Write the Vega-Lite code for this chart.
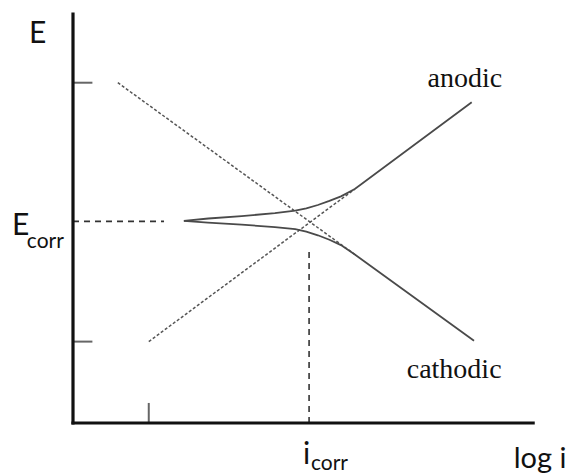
{
  "$schema": "https://vega.github.io/schema/vega-lite/v6.json",
  "width": 462,
  "height": 409,
  "autosize": "none",
  "padding": {"left": 73, "top": 14, "right": 34, "bottom": 50},
  "background": "white",
  "config": {"view": {"stroke": null}},
  "datasets": {
    "frame": [
      {"part": "E axis", "x": 0, "y": 0, "x2": 0, "y2": 10},
      {"part": "log i axis", "x": 0, "y": 0, "x2": 9.96, "y2": 0}
    ],
    "ticks": [
      {"part": "upper E tick", "x": 0, "y": 8.32, "x2": 0.42, "y2": 8.32},
      {"part": "lower E tick", "x": 0, "y": 1.99, "x2": 0.42, "y2": 1.99},
      {"part": "log i tick", "x": 1.64, "y": 0, "x2": 1.64, "y2": 0.49}
    ],
    "guides": [
      {"guide": "Ecorr", "x": 0, "y": 4.93, "x2": 1.97, "y2": 4.93},
      {"guide": "icorr", "x": 5.11, "y": 0, "x2": 5.11, "y2": 4.3}
    ],
    "tafel": [
      {"line": "cathodic", "x": 0.97, "y": 8.32},
      {"line": "cathodic", "x": 6.1, "y": 4.12},
      {"line": "anodic", "x": 1.64, "y": 1.99},
      {"line": "anodic", "x": 6.1, "y": 5.72}
    ],
    "curve": [
      {"branch": "anodic", "k": 0, "x": 2.4, "y": 4.94},
      {"branch": "anodic", "k": 1, "x": 2.93, "y": 5.0},
      {"branch": "anodic", "k": 2, "x": 3.65, "y": 5.06},
      {"branch": "anodic", "k": 3, "x": 4.37, "y": 5.13},
      {"branch": "anodic", "k": 4, "x": 4.81, "y": 5.19},
      {"branch": "anodic", "k": 5, "x": 5.05, "y": 5.25},
      {"branch": "anodic", "k": 6, "x": 5.3, "y": 5.33},
      {"branch": "anodic", "k": 7, "x": 5.55, "y": 5.43},
      {"branch": "anodic", "k": 8, "x": 5.8, "y": 5.54},
      {"branch": "anodic", "k": 9, "x": 6.1, "y": 5.72},
      {"branch": "anodic", "k": 10, "x": 8.63, "y": 7.84},
      {"branch": "cathodic", "k": 0, "x": 2.4, "y": 4.94},
      {"branch": "cathodic", "k": 1, "x": 2.92, "y": 4.9},
      {"branch": "cathodic", "k": 2, "x": 3.65, "y": 4.85},
      {"branch": "cathodic", "k": 3, "x": 4.37, "y": 4.79},
      {"branch": "cathodic", "k": 4, "x": 4.81, "y": 4.74},
      {"branch": "cathodic", "k": 5, "x": 5.05, "y": 4.68},
      {"branch": "cathodic", "k": 6, "x": 5.3, "y": 4.59},
      {"branch": "cathodic", "k": 7, "x": 5.55, "y": 4.48},
      {"branch": "cathodic", "k": 8, "x": 5.8, "y": 4.35},
      {"branch": "cathodic", "k": 9, "x": 6.1, "y": 4.12},
      {"branch": "cathodic", "k": 10, "x": 8.68, "y": 2.01}
    ],
    "symbols": [
      {"text": "E", "x": -0.95, "y": 9.29},
      {"text": "E", "x": -1.32, "y": 4.6},
      {"text": "i", "x": 4.98, "y": -1.0}
    ],
    "axisName": [
      {"text": "log i", "x": 10.68, "y": -1.1}
    ],
    "subscripts": [
      {"text": "corr", "x": -1.0, "y": 4.28},
      {"text": "corr", "x": 5.15, "y": -1.14}
    ],
    "branchLabels": [
      {"text": "anodic", "x": 8.48, "y": 8.22},
      {"text": "cathodic", "x": 8.25, "y": 1.1}
    ]
  },
  "encoding": {
    "x": {"type": "quantitative", "scale": {"domain": [0, 10], "nice": false, "zero": false}, "axis": null},
    "y": {"type": "quantitative", "scale": {"domain": [0, 10], "nice": false, "zero": false}, "axis": null}
  },
  "layer": [
    {
      "data": {"name": "guides"},
      "mark": {"type": "rule", "stroke": "#333", "strokeWidth": 1.6, "strokeDash": [6, 5]},
      "encoding": {"x": {"field": "x"}, "y": {"field": "y"}, "x2": {"field": "x2"}, "y2": {"field": "y2"}}
    },
    {
      "data": {"name": "tafel"},
      "mark": {"type": "line", "stroke": "#555", "strokeWidth": 1.5, "strokeDash": [3, 2]},
      "encoding": {"x": {"field": "x"}, "y": {"field": "y"}, "detail": {"field": "line"}}
    },
    {
      "data": {"name": "curve"},
      "mark": {"type": "line", "stroke": "#4a4a4a", "strokeWidth": 1.8, "interpolate": "linear"},
      "encoding": {"x": {"field": "x"}, "y": {"field": "y"}, "detail": {"field": "branch"}, "order": {"field": "k"}}
    },
    {
      "data": {"name": "ticks"},
      "mark": {"type": "rule", "stroke": "#666", "strokeWidth": 2},
      "encoding": {"x": {"field": "x"}, "y": {"field": "y"}, "x2": {"field": "x2"}, "y2": {"field": "y2"}}
    },
    {
      "data": {"name": "frame"},
      "mark": {"type": "rule", "stroke": "#111", "strokeWidth": 3.2, "strokeCap": "square"},
      "encoding": {"x": {"field": "x"}, "y": {"field": "y"}, "x2": {"field": "x2"}, "y2": {"field": "y2"}}
    },
    {
      "data": {"name": "symbols"},
      "mark": {"type": "text", "font": "Lato", "fontSize": 30, "align": "left", "baseline": "alphabetic", "color": "#111"},
      "encoding": {"x": {"field": "x"}, "y": {"field": "y"}, "text": {"field": "text"}}
    },
    {
      "data": {"name": "axisName"},
      "mark": {"type": "text", "font": "Lato", "fontSize": 29, "align": "right", "baseline": "alphabetic", "color": "#111"},
      "encoding": {"x": {"field": "x"}, "y": {"field": "y"}, "text": {"field": "text"}}
    },
    {
      "data": {"name": "subscripts"},
      "mark": {"type": "text", "font": "Lato", "fontSize": 21, "align": "left", "baseline": "alphabetic", "color": "#111"},
      "encoding": {"x": {"field": "x"}, "y": {"field": "y"}, "text": {"field": "text"}}
    },
    {
      "data": {"name": "branchLabels"},
      "mark": {"type": "text", "font": "Liberation Serif", "fontSize": 28, "align": "center", "baseline": "alphabetic", "color": "#111"},
      "encoding": {"x": {"field": "x"}, "y": {"field": "y"}, "text": {"field": "text"}}
    }
  ]
}
